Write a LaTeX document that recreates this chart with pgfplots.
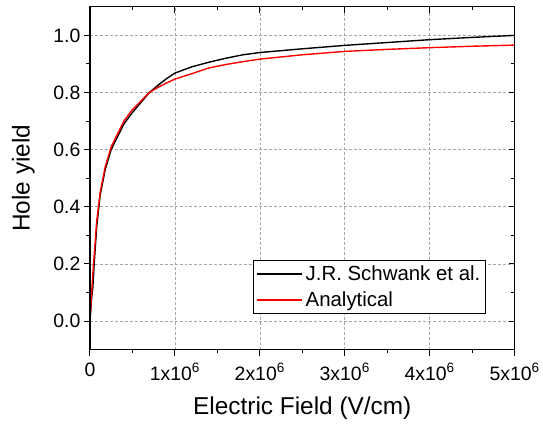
\documentclass[border=0pt]{standalone}
\usepackage{pgfplots}
\pgfplotsset{compat=1.18}
\usepackage{fontspec}
\setmainfont{Liberation Sans}

\begin{document}
\begin{tikzpicture}
    \begin{axis}[
        name=main,
        scale only axis,
        width=425bp, height=343bp,
        xmin=0, xmax=5000000,
        ymin=-0.1, ymax=1.1,
        scaled x ticks=false,
        xtick={0,1000000,2000000,3000000,4000000,5000000},
        xticklabels={0,1x10\textsuperscript{6},2x10\textsuperscript{6},3x10\textsuperscript{6},4x10\textsuperscript{6},5x10\textsuperscript{6}},
        ytick={0,0.2,0.4,0.6,0.8,1.0},
        yticklabels={0.0,0.2,0.4,0.6,0.8,1.0},
        minor x tick num=1,
        minor y tick num=1,
        xtick pos=left, ytick pos=left,
        tick align=outside,
        major tick length=6bp,
        minor tick length=3.5bp,
        every tick/.style={black, line width=1pt},
        axis line style={line width=1.2pt},
        grid=major,
        major grid style={densely dashed, gray!70, line width=0.6pt},
        tick label style={font=\fontsize{19.5}{22}\selectfont},
        xticklabel style={yshift=-4bp},
        label style={font=\fontsize{24.5}{28}\selectfont},
        xlabel={Electric Field (V/cm)},
        ylabel={Hole yield},
        xlabel style={yshift=-10bp},
        ylabel style={yshift=12bp},
        legend style={at={(0.932,0.105)}, anchor=south east,
            font=\fontsize{20.5}{24}\selectfont, draw=black, line width=0.8pt,
            inner xsep=2bp, inner ysep=3bp, row sep=6bp,
            nodes={inner xsep=3bp}},
        legend cell align=left,
        legend image code/.code={\draw[#1, line width=1.5pt] (0cm,0cm) -- (1.6cm,0cm);},
    ]
    % J.R. Schwank et al.
    \addplot[black, line width=1.4pt] coordinates {
        (0,0) (20000,0.08) (35000,0.12) (50000,0.2) (80000,0.33)
        (120000,0.44) (180000,0.53) (250000,0.6) (300000,0.63)
        (400000,0.69) (500000,0.73) (600000,0.765) (700000,0.80)
        (800000,0.825) (900000,0.848) (1000000,0.868) (1200000,0.89)
        (1400000,0.906) (1600000,0.92) (1800000,0.932) (2000000,0.94)
        (2500000,0.953) (3000000,0.965) (3500000,0.975) (4000000,0.985)
        (4500000,0.993) (5000000,1.0)
    };
    \addlegendentry{J.R. Schwank et al.}
    % Analytical
    \addplot[red, line width=1.4pt] coordinates {
        (0,0) (20000,0.1) (40000,0.19) (80000,0.35) (120000,0.45)
        (180000,0.54) (250000,0.61) (300000,0.64) (400000,0.70)
        (500000,0.74) (600000,0.77) (700000,0.80) (800000,0.818)
        (900000,0.833) (1000000,0.847) (1200000,0.866) (1400000,0.886)
        (1600000,0.898) (1800000,0.908) (2000000,0.917) (2500000,0.932)
        (3000000,0.944) (3500000,0.951) (4000000,0.957) (4500000,0.962)
        (5000000,0.966)
    };
    \addlegendentry{Analytical}
    \end{axis}
    % inward ticks on top and right
    \begin{axis}[
        scale only axis,
        width=425bp, height=343bp,
        xmin=0, xmax=5000000,
        ymin=-0.1, ymax=1.1,
        scaled x ticks=false,
        xtick={0,1000000,2000000,3000000,4000000,5000000},
        ytick={0,0.2,0.4,0.6,0.8,1.0},
        minor x tick num=1,
        minor y tick num=1,
        xtick pos=right, ytick pos=right,
        xticklabels={}, yticklabels={},
        tick align=inside,
        major tick length=6bp,
        minor tick length=3.5bp,
        every tick/.style={black, line width=1pt},
        axis line style={line width=1.2pt},
    ]
    \end{axis}
    \path ([yshift=4bp]main.north) -- ([xshift=-90bp]main.west);
\end{tikzpicture}
\end{document}
